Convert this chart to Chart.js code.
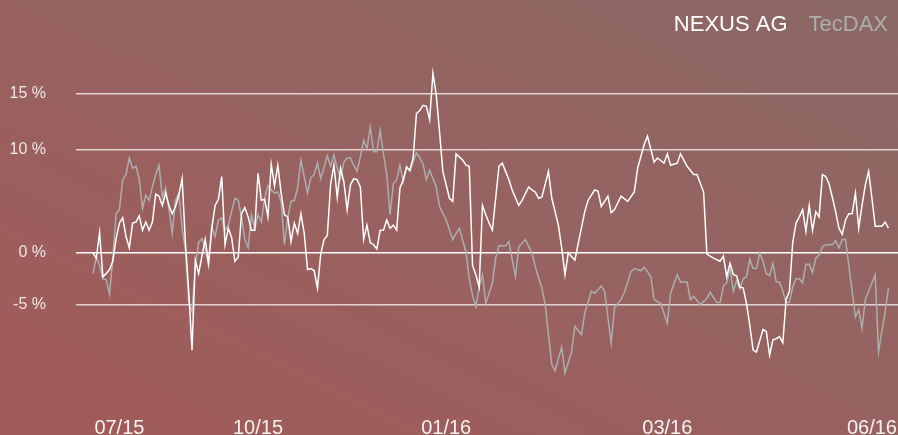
<!DOCTYPE html>
<html>
<head>
<meta charset="utf-8">
<script src="https://cdn.jsdelivr.net/npm/chart.js@4.4.0/dist/chart.umd.min.js"></script>
<style>
html, body { margin: 0; padding: 0; }
body {
    width: 898px;
    height: 435px;
    overflow: hidden;
    background: linear-gradient(to top right, #a25a58 0%, #976260 50%, #8b6865 100%);
}
</style>
</head>
<body>
<canvas id="perfChart" width="898" height="435"></canvas>
<script>
// Wertentwicklung in %, x = Handelstag seit Start
const nexus = [
    [0,0.0],[1,-0.5],[2,2.0],[3,-2.3],[4,-2.0],[5,-1.6],[6,-0.8],[7,1.4],[8,2.9],[9,3.4],
    [10,1.6],[11,0.5],[12,2.9],[13,3.0],[14,3.6],[15,2.2],[16,3.0],[17,2.2],[18,3.0],[19,5.7],
    [20,5.5],[21,4.6],[22,5.8],[23,4.6],[24,3.8],[25,4.5],[26,5.6],[27,7.2],[28,1.0],[29,-3.7],
    [30,-9.4],[31,-0.7],[32,-2.0],[33,-0.3],[34,1.3],[35,-1.0],[36,2.4],[37,4.6],[38,5.2],[39,7.4],
    [40,0.8],[41,2.4],[42,1.5],[43,-0.8],[44,-0.4],[45,3.8],[46,4.4],[47,3.5],[48,2.2],[49,2.2],
    [50,7.7],[51,5.1],[52,5.2],[53,3.5],[54,8.6],[55,6.5],[56,8.5],[57,5.8],[58,3.7],[59,3.5],
    [60,1.1],[61,2.9],[62,1.9],[63,3.8],[64,1.9],[65,-1.6],[66,-1.5],[67,-1.7],[68,-3.4],[69,-0.1],
    [70,1.3],[71,1.7],[72,6.7],[73,8.5],[74,5.4],[75,8.2],[76,6.9],[77,4.2],[78,6.6],[79,7.2],
    [80,7.1],[81,6.4],[82,1.3],[83,2.7],[84,1.0],[85,0.8],[86,0.4],[87,2.2],[88,2.2],[89,3.2],
    [90,2.4],[91,2.7],[92,2.2],[93,6.3],[94,7.1],[95,8.3],[96,8.0],[97,9.2],[98,13.5],[99,13.8],
    [100,14.3],[101,14.2],[102,12.9],[103,17.4],[104,15.3],[105,11.7],[106,7.9],[108,5.3],[109,5.0],[110,9.6],
    [112,9.0],[113,8.5],[114,8.4],[115,-1.2],[116,-2.1],[117,-3.3],[118,4.6],[119,3.7],[120,2.9],[121,2.2],
    [123,8.4],[124,8.7],[125,7.9],[126,7.1],[127,6.1],[129,4.6],[130,5.1],[132,6.4],[133,6.1],[134,5.9],
    [135,5.3],[136,5.4],[138,7.9],[139,5.3],[141,2.7],[142,0.5],[143,-2.1],[144,0.0],[146,-0.7],[147,0.9],
    [149,4.0],[150,5.1],[152,6.1],[153,6.0],[154,4.5],[156,5.5],[157,3.9],[158,4.2],[160,5.5],[162,5.0],
    [164,5.9],[165,8.2],[167,10.5],[168,11.3],[170,8.8],[171,9.2],[173,8.7],[174,9.6],[175,8.5],[177,8.7],
    [178,9.6],[180,8.4],[182,7.6],[183,7.6],[185,5.9],[186,-0.1],[188,-0.5],[190,-0.8],[191,-0.3],[192,-2.3],
    [193,-1.0],[194,-2.1],[195,-2.2],[196,-3.3],[197,-3.4],[198,-4.9],[199,-7.0],[200,-9.4],[201,-9.6],[202,-8.5],
    [203,-7.4],[204,-7.6],[205,-9.9],[206,-8.4],[207,-8.3],[208,-8.1],[209,-8.7],[210,-4.5],[211,-3.7],[212,1.0],
    [213,2.9],[214,3.5],[215,4.2],[216,2.1],[217,4.6],[218,2.2],[219,4.0],[220,3.5],[221,7.6],[222,7.4],
    [223,6.7],[224,5.4],[225,4.0],[226,2.4],[227,1.8],[228,3.2],[229,3.8],[230,3.8],[231,5.8],[232,2.4],
    [233,4.6],[234,6.6],[235,7.9],[236,5.3],[237,2.6],[238,2.6],[239,2.6],[240,3.0],[241,2.4]
];

const tecdax = [
    [0,-2.0],[1,-0.4],[2,-1.2],[3,-2.5],[4,-2.6],[5,-4.0],[6,-0.5],[7,3.8],[8,4.2],[9,7.1],
    [10,7.6],[11,9.2],[12,8.2],[13,8.4],[14,7.2],[15,4.3],[16,5.6],[17,5.1],[18,6.4],[19,7.6],
    [20,8.5],[21,5.4],[22,6.3],[23,4.3],[24,1.9],[25,5.1],[26,5.8],[27,2.4],[28,0.3],[29,-4.7],
    [30,-5.7],[31,-1.2],[32,1.0],[33,1.4],[34,0.4],[35,-1.2],[36,2.5],[37,1.6],[38,3.2],[39,3.4],
    [40,2.2],[41,2.7],[42,4.0],[43,5.3],[44,5.1],[45,3.5],[46,1.3],[47,0.5],[48,3.7],[49,2.3],
    [50,3.7],[51,3.0],[52,5.3],[53,6.5],[54,6.1],[55,5.8],[56,5.9],[57,5.0],[58,0.8],[59,3.4],
    [60,5.0],[61,5.1],[62,6.3],[63,9.0],[64,7.4],[65,5.8],[66,7.3],[67,7.6],[68,8.7],[69,7.2],
    [71,9.4],[72,8.4],[73,9.5],[74,8.2],[75,7.2],[76,8.8],[77,9.2],[78,9.2],[79,8.5],[80,7.9],
    [81,9.3],[82,10.9],[83,10.1],[84,12.2],[85,9.8],[86,9.8],[87,11.9],[88,9.6],[89,7.6],[90,3.7],
    [91,6.7],[92,7.1],[93,8.5],[94,6.9],[95,8.4],[96,7.9],[97,8.8],[98,9.7],[99,9.2],[100,8.6],
    [101,7.1],[102,8.0],[104,6.4],[105,4.5],[107,3.2],[109,1.3],[110,1.9],[111,2.4],[113,0.1],[114,-2.5],
    [115,-4.1],[116,-5.2],[117,-3.3],[118,-2.1],[119,-4.9],[121,-2.9],[122,-0.5],[123,0.7],[125,0.7],[126,1.1],
    [128,-2.3],[129,0.6],[131,1.3],[133,0.0],[134,-1.3],[135,-2.4],[136,-3.4],[137,-5.0],[139,-10.8],[140,-11.4],
    [142,-9.1],[143,-11.6],[145,-9.6],[146,-7.1],[148,-7.9],[149,-5.8],[151,-3.7],[152,-3.9],[154,-3.2],[155,-3.7],
    [156,-6.2],[157,-8.7],[158,-5.3],[160,-4.5],[161,-3.8],[163,-1.8],[164,-1.5],[166,-1.7],[167,-1.4],[168,-1.8],
    [169,-2.3],[170,-4.5],[172,-4.9],[174,-6.8],[175,-3.9],[177,-2.1],[178,-2.8],[180,-2.8],[181,-4.5],[182,-4.2],
    [184,-5.0],[186,-4.4],[187,-3.8],[189,-4.8],[190,-4.8],[191,-3.2],[192,-2.9],[193,-1.5],[194,-3.7],[195,-2.7],
    [196,-3.5],[197,-2.5],[198,-2.3],[199,-0.6],[200,-1.5],[201,-1.5],[202,0.0],[203,-0.8],[204,-2.0],[205,-2.2],
    [206,-1.0],[207,-2.8],[208,-2.8],[209,-3.7],[210,-4.8],[211,-4.8],[212,-3.3],[213,-2.5],[214,-2.5],[215,-2.9],
    [216,-1.1],[217,-1.1],[218,-1.9],[219,-0.5],[220,-0.2],[221,0.6],[222,0.8],[223,0.8],[224,0.8],[225,1.2],
    [226,0.5],[227,1.3],[228,1.3],[229,-1.2],[230,-3.7],[231,-6.2],[232,-5.5],[233,-7.3],[234,-4.5],[235,-3.7],
    [236,-2.9],[237,-2.1],[238,-9.6],[239,-7.6],[240,-5.7],[241,-3.4]
];

// Achsenbeschriftungen
const xTickDays = [8, 50, 107, 174, 236];
const xTickLabels = ['07/15', '10/15', '01/16', '03/16', '06/16'];
const yTickValues = [-5, 0, 10, 15.4];
const yTickLabels = ['-5 %', '0 %', '10 %', '15 %'];

const FONT = "'Liberation Sans', Arial, Helvetica, sans-serif";

const ctx = document.getElementById('perfChart').getContext('2d');

const perfChart = new Chart(ctx, {
    type: 'line',
    data: {
        datasets: [
            {
                label: 'NEXUS AG',
                data: nexus.map(p => ({ x: p[0], y: p[1] })),
                borderColor: '#ffffff',
                borderWidth: 1.5,
                pointRadius: 0,
                tension: 0,
            },
            {
                label: 'TecDAX',
                data: tecdax.map(p => ({ x: p[0], y: p[1] })),
                borderColor: 'rgb(172,174,174)',
                borderWidth: 1.5,
                pointRadius: 0,
                tension: 0,
            }
        ]
    },
    options: {
        responsive: false,
        animation: false,
        layout: {
            padding: { top: 4, left: 0, right: 0, bottom: 0 }
        },
        plugins: {
            tooltip: { enabled: false },
            legend: {
                position: 'top',
                align: 'end',
                labels: {
                    boxWidth: 0,
                    boxHeight: 0,
                    padding: 10,
                    font: { size: 22, family: FONT },
                    generateLabels: chart => chart.data.datasets.map((ds, i) => ({
                        text: ds.label,
                        fontColor: ds.borderColor,
                        fillStyle: 'transparent',
                        strokeStyle: 'transparent',
                        lineWidth: 0,
                        hidden: false,
                        datasetIndex: i
                    }))
                }
            }
        },
        scales: {
            x: {
                type: 'linear',
                min: -5.15,
                max: 243.9,
                grid: { display: false },
                border: { display: false },
                afterBuildTicks: scale => {
                    scale.ticks = xTickDays.map(v => ({ value: v }));
                },
                afterFit: scale => { scale.height = 25; },
                ticks: {
                    autoSkip: false,
                    maxRotation: 0,
                    padding: -2,
                    color: 'rgba(255,255,255,0.92)',
                    font: { size: 20, family: FONT },
                    callback: (value, index) => xTickLabels[index]
                }
            },
            y: {
                min: -15.2,
                max: 20.04,
                border: { display: false },
                grid: {
                    drawTicks: false,
                    lineWidth: 1.5,
                    color: c => (c.tick && c.tick.value === 0) ? '#ffffff' : 'rgba(255,255,255,0.72)'
                },
                afterBuildTicks: scale => {
                    scale.ticks = yTickValues.map(v => ({ value: v }));
                },
                afterFit: scale => {
                    scale.width = 76;
                    scale.paddingTop = 10;
                    scale.paddingBottom = 10;
                },
                ticks: {
                    padding: 30,
                    color: 'rgba(255,255,255,0.85)',
                    font: { size: 16, family: FONT },
                    callback: (value, index) => yTickLabels[index]
                }
            }
        }
    }
});
</script>
</body>
</html>
